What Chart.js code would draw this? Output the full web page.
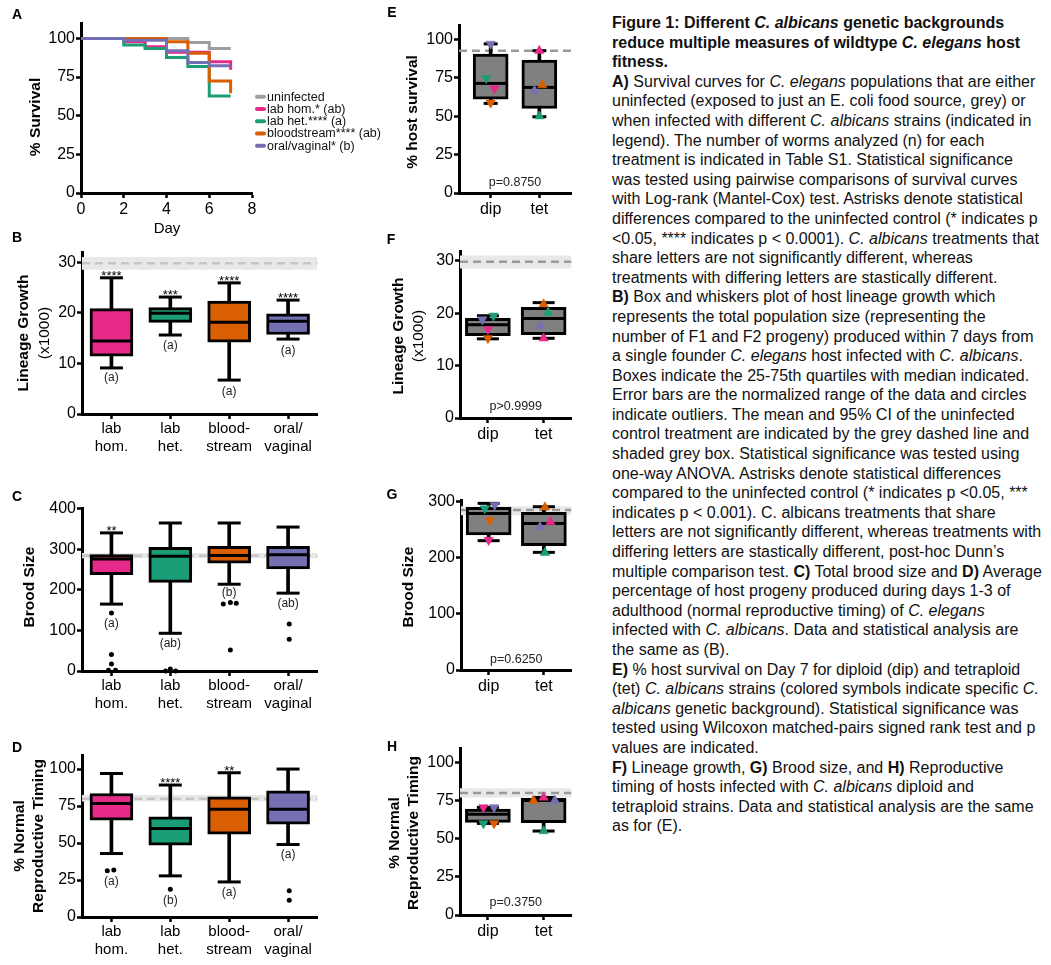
<!DOCTYPE html>
<html>
<head>
<meta charset="utf-8">
<title>Figure 1</title>
<script src="https://cdn.jsdelivr.net/npm/chart.js@4.4.1/dist/chart.umd.min.js"></script>
<style>
  body { margin: 0; background: #fff; width: 1051px; height: 965px; overflow: hidden; position: relative;
         font-family: "Liberation Sans", Arial, Helvetica, sans-serif; }
  canvas { position: absolute; }
  #caption { position: absolute; left: 612px; top: 13px; font-size: 16px; line-height: 19.6px;
             color: #111; white-space: nowrap; }
</style>
</head>
<body>
<canvas id="panelA"></canvas>
<canvas id="panelB"></canvas>
<canvas id="panelC"></canvas>
<canvas id="panelD"></canvas>
<canvas id="panelE"></canvas>
<canvas id="panelF"></canvas>
<canvas id="panelG"></canvas>
<canvas id="panelH"></canvas>

<div id="caption">
<div><b>Figure 1: Different <i>C. albicans</i> genetic backgrounds</b></div>
<div><b>reduce multiple measures of wildtype <i>C. elegans</i> host</b></div>
<div><b>fitness.</b></div>
<div><b>A)</b> Survival curves for <i>C. elegans</i> populations that are either</div>
<div>uninfected (exposed to just an E. coli food source, grey) or</div>
<div>when infected with different <i>C. albicans</i> strains (indicated in</div>
<div>legend). The number of worms analyzed (n) for each</div>
<div>treatment is indicated in Table S1. Statistical significance</div>
<div>was tested using pairwise comparisons of survival curves</div>
<div>with Log-rank (Mantel-Cox) test. Astrisks denote statistical</div>
<div>differences compared to the uninfected control (* indicates p</div>
<div>&lt;0.05, **** indicates p &lt; 0.0001). <i>C. albicans</i> treatments that</div>
<div>share letters are not significantly different, whereas</div>
<div>treatments with differing letters are stastically different.</div>
<div><b>B)</b> Box and whiskers plot of host lineage growth which</div>
<div>represents the total population size (representing the</div>
<div>number of F1 and F2 progeny) produced within 7 days from</div>
<div>a single founder <i>C. elegans</i> host infected with <i>C. albicans</i>.</div>
<div>Boxes indicate the 25-75th quartiles with median indicated.</div>
<div>Error bars are the normalized range of the data and circles</div>
<div>indicate outliers. The mean and 95% CI of the uninfected</div>
<div>control treatment are indicated by the grey dashed line and</div>
<div>shaded grey box. Statistical significance was tested using</div>
<div>one-way ANOVA. Astrisks denote statistical differences</div>
<div>compared to the uninfected control (* indicates p &lt;0.05, ***</div>
<div>indicates p &lt; 0.001). C. albicans treatments that share</div>
<div>letters are not significantly different, whereas treatments with</div>
<div>differing letters are stastically different, post-hoc Dunn’s</div>
<div>multiple comparison test. <b>C)</b> Total brood size and <b>D)</b> Average</div>
<div>percentage of host progeny produced during days 1-3 of</div>
<div>adulthood (normal reproductive timing) of <i>C. elegans</i></div>
<div>infected with <i>C. albicans</i>. Data and statistical analysis are</div>
<div>the same as (B).</div>
<div><b>E)</b> % host survival on Day 7 for diploid (dip) and tetraploid</div>
<div>(tet) <i>C. albicans</i> strains (colored symbols indicate specific <i>C.</i></div>
<div><i>albicans</i> genetic background). Statistical significance was</div>
<div>tested using Wilcoxon matched-pairs signed rank test and p</div>
<div>values are indicated.</div>
<div><b>F)</b> Lineage growth, <b>G)</b> Brood size, and <b>H)</b> Reproductive</div>
<div>timing of hosts infected with <i>C. albicans</i> diploid and</div>
<div>tetraploid strains. Data and statistical analysis are the same</div>
<div>as for (E).</div>
</div>

<script>
// ---------- data ----------

// strain palette (legend order: lab hom., lab het., bloodstream, oral/vaginal)
const strainColors = ['#e7298a', '#1b9e77', '#d95f02', '#7570b3'];
const strainTicks = [['lab', 'hom.'], ['lab', 'het.'], ['blood-', 'stream'], ['oral/', 'vaginal']];
const ploidyTicks = ['dip', 'tet'];

// A: survival curves, [day, % alive]
const survLabels = ['uninfected', 'lab hom.* (ab)', 'lab het.**** (a)', 'bloodstream**** (ab)', 'oral/vaginal* (b)'];
const survColors = ['#9e9e9e', '#e7298a', '#1b9e77', '#d95f02', '#7570b3'];
const survUninfected = [[0, 100], [5, 97.4], [6, 93.5], [7, 93.5]];
const survLabHom = [[0, 100], [2, 97.8], [3, 94.6], [4, 91], [6, 85], [7, 79.7]];
const survLabHet = [[0, 100], [2, 95.7], [3, 93.5], [4, 87.7], [5, 81.8], [6, 62.8], [7, 62.8]];
const survBlood = [[0, 100], [4, 97.8], [5, 90.5], [6, 72.5], [7, 64.5]];
const survOral = [[0, 100], [2, 98.8], [4, 92], [5, 84.4], [6, 82.3], [7, 82.3]];

// box stats: [min, q1, median, q3, max]
// B: lineage growth (x1000)
const growthStats = [[9.1, 11.4, 14.4, 20.8, 26.9], [15.6, 18.1, 19.9, 21.0, 23.1],
                     [6.7, 14.2, 18.1, 22.3, 25.9], [14.8, 15.7, 18.3, 19.8, 22.5]];
const growthRef = [28.5, 29.8, 31.0];           // CI low, mean, CI high (uninfected)
const growthStars = ['****', '***', '****', '****'];
const growthLetters = ['(a)', '(a)', '(a)', '(a)'];
const growthLetterY = [7.1, 13.4, 4.5, 12.5];
const growthOutliers = [];

// C: brood size
const broodStats = [[165, 237.5, 276, 287, 340.6], [93, 218.5, 283, 305, 365],
                    [214, 266, 285, 307.6, 365], [192, 251.5, 287, 307.6, 355]];
const broodRef = [278, 284.5, 291];
const broodStars = ['**', '', '', ''];
const broodLetters = ['(a)', '(ab)', '(b)', '(ab)'];
const broodLetterY = [116, 68, 192, 167];
const broodOutliers = [[0, 143], [0, 41], [0, 17], [-0.05, 2], [0.07, 2],
                       [0.92, 0], [1, 5], [1.09, 0],
                       [1.9, 165], [2.02, 169], [2.12, 167], [2.02, 52],
                       [3.02, 116], [3.02, 78]];

// D: % normal reproductive timing
const timingStats = [[42.9, 65.5, 76.7, 83.5, 97], [27.8, 48.5, 59.8, 67.7, 89.2],
                     [23.7, 56, 72.9, 81.3, 97.5], [49, 62.8, 72.9, 85.3, 100]];
const timingRef = [78, 80, 82.5];
const timingStars = ['', '****', '**', ''];
const timingLetters = ['(a)', '(b)', '(a)', '(a)'];
const timingLetterY = [24, 11, 16.5, 41.8];
const timingOutliers = [[-0.07, 31.2], [0.04, 31.8], [1, 18.7], [3.02, 17.8], [3.02, 11.3]];

// E-H: diploid vs tetraploid; per-strain values in strainColors order
const survPloidyStats = [[58.3, 61.1, 71.3, 90.4, 97], [49.6, 55, 68.7, 86.5, 92.6]];
const survDip = [68, 74.6, 58.7, 97];
const survTet = [92.6, 50, 70.2, 66.5];
const survPloidyRef = [92.6, 92.6, 92.6];

const growthPloidyStats = [[15.1, 15.7, 17.8, 19.0, 19.5], [15.2, 15.9, 19.0, 21.1, 22]];
const growthDip = [16.9, 19.5, 15.2, 18.8];
const growthTet = [15.2, 20.1, 21.7, 17.6];

const broodPloidyStats = [[230.5, 240.6, 279, 290, 297], [209.7, 221.6, 261, 281, 291]];
const broodDip = [231.7, 288, 267, 294];
const broodTet = [264, 209, 290, 255];
const broodPloidyRef = [276, 285, 292];

const timingPloidyStats = [[60, 60.7, 66, 69.4, 70.5], [55, 60.5, 75, 76.5, 77]];
const timingDip = [70.5, 60, 60, 70.5];
const timingTet = [77, 55, 75, 75];
const timingPloidyRef = [77, 80, 83];

const pValues = ['p=0.8750', 'p>0.9999', 'p=0.6250', 'p=0.3750'];

// horizontal spread of the symbols so they don't overlap: [dip, tet] per strain
const jitterE = [[0.08, 0], [-0.09, 0], [0, 0.06], [0, -0.1]];
const jitterF = [[0, 0], [0.1, 0.08], [0, 0], [-0.1, -0.06]];
const jitterG = [[0, 0.12], [-0.07, 0.02], [0.02, 0.02], [0.11, -0.07]];
const jitterH = [[-0.08, 0], [-0.08, 0], [0.11, -0.18], [0.11, 0.2]];

// ---------- chart setup ----------
const FONT = '"Liberation Sans", Arial, Helvetica, sans-serif';
Chart.defaults.font.family = FONT;
Chart.defaults.color = '#000';
Chart.defaults.animation = false;
Chart.defaults.events = [];
Chart.defaults.plugins.legend.display = false;
Chart.defaults.plugins.tooltip.enabled = false;

// text that is not an axis: panel letter, rotated axis titles, stars, letters, p values, legend
const figText = {
    id: 'figText',
    afterDraw(chart, args, o) {
        if (!o || !o.letter) return;
        const ctx = chart.ctx;
        const ox = chart.canvas.offsetLeft, oy = chart.canvas.offsetTop;
        const sx = chart.scales.x, sy = chart.scales.y;
        ctx.save();
        ctx.fillStyle = '#000';
        ctx.textAlign = 'center';
        ctx.textBaseline = 'middle';

        ctx.font = `bold 14px ${FONT}`;
        ctx.fillText(o.letter[0], o.letter[1] - ox, o.letter[2] - oy);

        o.yTitle.forEach(t => {
            ctx.save();
            ctx.translate(t.x - ox, o.yTitleY - oy);
            ctx.rotate(-Math.PI / 2);
            ctx.font = `${t.bold ? 'bold ' : ''}15.5px ${FONT}`;
            ctx.fillText(t.text, 0, 0);
            ctx.restore();
        });

        if (o.xTitle) {
            ctx.font = `15px ${FONT}`;
            ctx.fillText(o.xTitle[0], o.xTitle[1] - ox, o.xTitle[2] - oy);
        }

        // significance stars sit just above the top whisker cap
        if (o.stars) {
            ctx.font = `13px ${FONT}`;
            ctx.textBaseline = 'alphabetic';
            o.stars.forEach((s, i) => {
                if (s) ctx.fillText(s, sx.getPixelForValue(i), sy.getPixelForValue(o.tops[i]) + 2);
            });
            ctx.textBaseline = 'middle';
        }
        if (o.letters) {
            ctx.font = `12px ${FONT}`;
            ctx.fillStyle = '#222';
            o.letters.forEach((s, i) => ctx.fillText(s, sx.getPixelForValue(i), sy.getPixelForValue(o.letterY[i])));
        }
        if (o.pText) {
            ctx.font = `12.5px ${FONT}`;
            ctx.fillStyle = '#222';
            ctx.fillText(o.pText[0], sx.getPixelForValue(o.pText[1]), sy.getPixelForValue(o.pText[2]));
        }

        // legend for the survival panel
        if (o.legend) {
            const [lx, ly, dy] = o.legend;
            ctx.font = `12.5px ${FONT}`;
            ctx.textAlign = 'left';
            ctx.lineCap = 'round';
            ctx.lineWidth = 4;
            chart.data.datasets.forEach((d, k) => {
                const y = ly + k * dy - oy;
                ctx.strokeStyle = d.borderColor;
                ctx.beginPath();
                ctx.moveTo(lx - ox + 2, y);
                ctx.lineTo(lx - ox + 9, y);
                ctx.stroke();
                ctx.fillStyle = '#111';
                ctx.fillText(d.label, lx - ox + 12, y + 0.5);
            });
        }
        ctx.restore();
    }
};
Chart.register(figText);

function place(id, box) {
    const c = document.getElementById(id);
    c.width = box.w;
    c.height = box.h;
    c.style.left = box.x + 'px';
    c.style.top = box.y + 'px';
    return c;
}

// fixes the plot rectangle (page coords) inside the canvas
function frame(box, plot) {
    return {
        padding: { left: 0, top: plot.top - box.y, right: box.x + box.w - plot.right, bottom: 0 },
        yw: plot.left - box.x,
        xh: box.y + box.h - plot.bottom
    };
}

// ticks at exact multiples of the step (Chart.js would otherwise stretch the step to reach max)
function stepTicks(step) {
    return s => {
        const t = [];
        for (let v = 0; v <= s.max + 1e-9; v += step) t.push({ value: v });
        s.ticks = t;
    };
}

const gridStyle = { drawOnChartArea: false, drawTicks: true, tickLength: 5, tickWidth: 2.5, tickColor: '#000', offset: false };
const borderStyle = { display: true, color: '#000', width: 3 };

function boxChart(id, p) {
    const cv = place(id, p.box);
    const fr = frame(p.box, p.plot);
    const ds = [];

    // uninfected mean (dashed) and 95% CI band
    if (p.ref[0] !== p.ref[2]) {
        ds.push({ type: 'line', data: [{ x: p.xMin, y: p.ref[2] }, { x: p.xMax, y: p.ref[2] }],
            borderColor: 'transparent', borderWidth: 0, pointRadius: 0,
            fill: { value: p.ref[0] }, backgroundColor: '#e8e8e8', order: 30 });
    }
    ds.push({ type: 'line', data: [{ x: p.xMin, y: p.ref[1] }, { x: p.xMax, y: p.ref[1] }],
        borderColor: p.refColor, borderWidth: 2.5, borderDash: [8, 5], pointRadius: 0, fill: false, order: 29 });

    // whisker stems, caps, boxes, medians
    ds.push({ type: 'bar', data: p.stats.map((s, i) => ({ x: i, y: [s[0], s[4]] })),
        backgroundColor: '#000', barThickness: 3, maxBarThickness: 3, grouped: false, order: 20 });
    ds.push({ type: 'scatter', data: p.stats.flatMap((s, i) => [{ x: i, y: s[0] }, { x: i, y: s[4] }]),
        pointStyle: 'line', pointRadius: p.capW / 2, pointBorderColor: '#000', pointBorderWidth: 3, clip: false, order: 19 });
    ds.push({ type: 'bar', data: p.stats.map((s, i) => ({ x: i, y: [s[1], s[3]] })),
        backgroundColor: p.colors, borderColor: '#000', borderWidth: 3, borderSkipped: false,
        barThickness: p.boxW, maxBarThickness: p.boxW, grouped: false, order: 10 });
    ds.push({ type: 'scatter', data: p.stats.map((s, i) => ({ x: i, y: s[2] })),
        pointStyle: 'line', pointRadius: p.boxW / 2 - 2, pointBorderColor: '#000', pointBorderWidth: 3, clip: false, order: 9 });

    // outliers
    if (p.outliers && p.outliers.length) {
        ds.push({ type: 'scatter', data: p.outliers.map(([x, y]) => ({ x, y })),
            pointStyle: 'circle', pointRadius: 2.5, pointBackgroundColor: '#000', pointBorderWidth: 0, clip: false, order: 2 });
    }
    // per-strain symbols (down = diploid, up = tetraploid)
    if (p.dip) {
        strainColors.forEach((c, k) => {
            ds.push({ type: 'scatter',
                data: [{ x: 0 + p.jitter[k][0], y: p.dip[k] }, { x: 1 + p.jitter[k][1], y: p.tet[k] }],
                pointStyle: 'triangle', pointRotation: [180, 0], pointRadius: 5.5,
                pointBackgroundColor: c, pointBorderColor: c, pointBorderWidth: 0.5, clip: false, order: 1 });
        });
    }

    return new Chart(cv, {
        type: 'bar',
        data: { datasets: ds },
        options: {
            responsive: false,
            layout: { padding: fr.padding },
            scales: {
                x: {
                    type: 'linear', min: p.xMin, max: p.xMax, offset: false,
                    afterBuildTicks: s => { s.ticks = p.ticks.map((_, i) => ({ value: i })); },
                    afterFit: s => { s.height = fr.xh; },
                    ticks: { callback: v => p.ticks[v], font: { size: p.xFont }, color: '#000',
                             padding: p.xPad, maxRotation: 0, autoSkip: false },
                    grid: gridStyle, border: borderStyle
                },
                y: {
                    type: 'linear', min: 0, max: p.yMax,
                    afterBuildTicks: stepTicks(p.yStep),
                    afterFit: s => { s.width = fr.yw; },
                    ticks: { font: { size: 16 }, color: '#000', padding: 1 },
                    grid: gridStyle, border: borderStyle
                }
            },
            plugins: {
                figText: {
                    letter: p.letter, yTitle: p.yTitle, yTitleY: p.yTitleY,
                    stars: p.stars, tops: p.stats.map(s => s[4]),
                    letters: p.letters, letterY: p.letterY, pText: p.pText
                }
            }
        }
    });
}

// ---------- A: survival ----------
(function () {
    const box = { x: 0, y: 0, w: 390, h: 245 };
    const fr = frame(box, { left: 81, right: 252, top: 23, bottom: 193 });
    const series = [survUninfected, survLabHom, survLabHet, survBlood, survOral];
    new Chart(place('panelA', box), {
        type: 'line',
        data: {
            datasets: series.map((s, k) => ({
                label: survLabels[k],
                data: s.map(([d, v]) => ({ x: d, y: v })),
                stepped: true, borderColor: survColors[k], borderWidth: 3,
                pointRadius: 0, fill: false, clip: false, order: 5 - k
            }))
        },
        options: {
            responsive: false,
            layout: { padding: fr.padding },
            scales: {
                x: { type: 'linear', min: 0, max: 8, afterFit: s => { s.height = fr.xh; },
                     afterBuildTicks: stepTicks(2),
                     ticks: { font: { size: 16 }, color: '#000', padding: 2 },
                     grid: gridStyle, border: borderStyle },
                y: { type: 'linear', min: 0, max: 110, afterFit: s => { s.width = fr.yw; },
                     afterBuildTicks: s => { stepTicks(25)(s); s.ticks = s.ticks.filter(t => t.value <= 100); },
                     ticks: { font: { size: 16 }, color: '#000', padding: 1 },
                     grid: gridStyle, border: borderStyle }
            },
            plugins: {
                figText: {
                    letter: ['A', 17, 15],
                    yTitle: [{ text: '% Survival', bold: true, x: 36 }], yTitleY: 117,
                    xTitle: ['Day', 167, 229],
                    legend: [255, 96.7, 12.25]
                }
            }
        }
    });
})();

// ---------- B-D: strain box plots ----------
const strainBase = { xMin: -0.5, xMax: 3.5, ticks: strainTicks, xFont: 15, xPad: 1,
                     colors: strainColors, boxW: 43, capW: 23, refColor: '#c6c6c6' };

boxChart('panelB', Object.assign({}, strainBase, {
    box: { x: 0, y: 225, w: 340, h: 245 }, plot: { left: 82, right: 325, top: 252, bottom: 414 },
    yMax: 32, yStep: 10, stats: growthStats, ref: growthRef, outliers: growthOutliers,
    stars: growthStars, letters: growthLetters, letterY: growthLetterY,
    letter: ['B', 17, 238],
    yTitle: [{ text: 'Lineage Growth', bold: true, x: 24 }, { text: '(x1000)', bold: false, x: 45 }], yTitleY: 333
}));

boxChart('panelC', Object.assign({}, strainBase, {
    box: { x: 0, y: 475, w: 340, h: 245 }, plot: { left: 82, right: 325, top: 508, bottom: 671 },
    yMax: 402, yStep: 100, stats: broodStats, ref: broodRef, outliers: broodOutliers,
    stars: broodStars, letters: broodLetters, letterY: broodLetterY,
    letter: ['C', 17, 497],
    yTitle: [{ text: 'Brood Size', bold: true, x: 30 }], yTitleY: 587
}));

boxChart('panelD', Object.assign({}, strainBase, {
    box: { x: 0, y: 720, w: 340, h: 245 }, plot: { left: 82, right: 325, top: 755, bottom: 917 },
    yMax: 109.5, yStep: 25, stats: timingStats, ref: timingRef, outliers: timingOutliers,
    stars: timingStars, letters: timingLetters, letterY: timingLetterY,
    letter: ['D', 17, 748],
    yTitle: [{ text: '% Normal', bold: true, x: 20 }, { text: 'Reproductive Timing', bold: true, x: 39 }], yTitleY: 836
}));

// ---------- E-H: ploidy box plots ----------
const ploidyBase = { xMin: -0.5, xMax: 1.5, ticks: ploidyTicks, xFont: 16, xPad: 2,
                     colors: ['#808080', '#808080'], boxW: 45, capW: 22, refColor: '#999999' };

boxChart('panelE', Object.assign({}, ploidyBase, {
    box: { x: 380, y: 0, w: 215, h: 225 }, plot: { left: 459, right: 571, top: 25, bottom: 193 },
    xMin: -0.65, xMax: 1.65, boxW: 35, capW: 14,
    yMax: 109.3, yStep: 25, stats: survPloidyStats, ref: survPloidyRef,
    dip: survDip, tet: survTet, jitter: jitterE, pText: [pValues[0], 0.5, 6.5],
    letter: ['E', 392, 13],
    yTitle: [{ text: '% host survival', bold: true, x: 413 }], yTitleY: 112
}));

boxChart('panelF', Object.assign({}, ploidyBase, {
    box: { x: 380, y: 225, w: 215, h: 235 }, plot: { left: 460, right: 572, top: 251, bottom: 418 },
    yMax: 31.85, yStep: 10, stats: growthPloidyStats, ref: growthRef,
    dip: growthDip, tet: growthTet, jitter: jitterF, pText: [pValues[1], 0.5, 2.1],
    letter: ['F', 391, 240],
    yTitle: [{ text: 'Lineage Growth', bold: true, x: 399 }, { text: '(x1000)', bold: false, x: 419 }], yTitleY: 336
}));

boxChart('panelG', Object.assign({}, ploidyBase, {
    box: { x: 380, y: 460, w: 215, h: 240 }, plot: { left: 461, right: 572, top: 500, bottom: 670 },
    yMax: 303, yStep: 100, stats: broodPloidyStats, ref: broodPloidyRef,
    dip: broodDip, tet: broodTet, jitter: jitterG, pText: [pValues[2], 0.5, 17.8],
    letter: ['G', 392, 495],
    yTitle: [{ text: 'Brood Size', bold: true, x: 409 }], yTitleY: 587
}));

boxChart('panelH', Object.assign({}, ploidyBase, {
    box: { x: 380, y: 700, w: 215, h: 265 }, plot: { left: 460, right: 572, top: 748, bottom: 915 },
    yMax: 109.4, yStep: 25, stats: timingPloidyStats, ref: timingPloidyRef,
    dip: timingDip, tet: timingTet, jitter: jitterH, pText: [pValues[3], 0.5, 7.9],
    letter: ['H', 392, 747],
    yTitle: [{ text: '% Normal', bold: true, x: 395 }, { text: 'Reproductive Timing', bold: true, x: 414 }], yTitleY: 833
}));
</script>
</body>
</html>
